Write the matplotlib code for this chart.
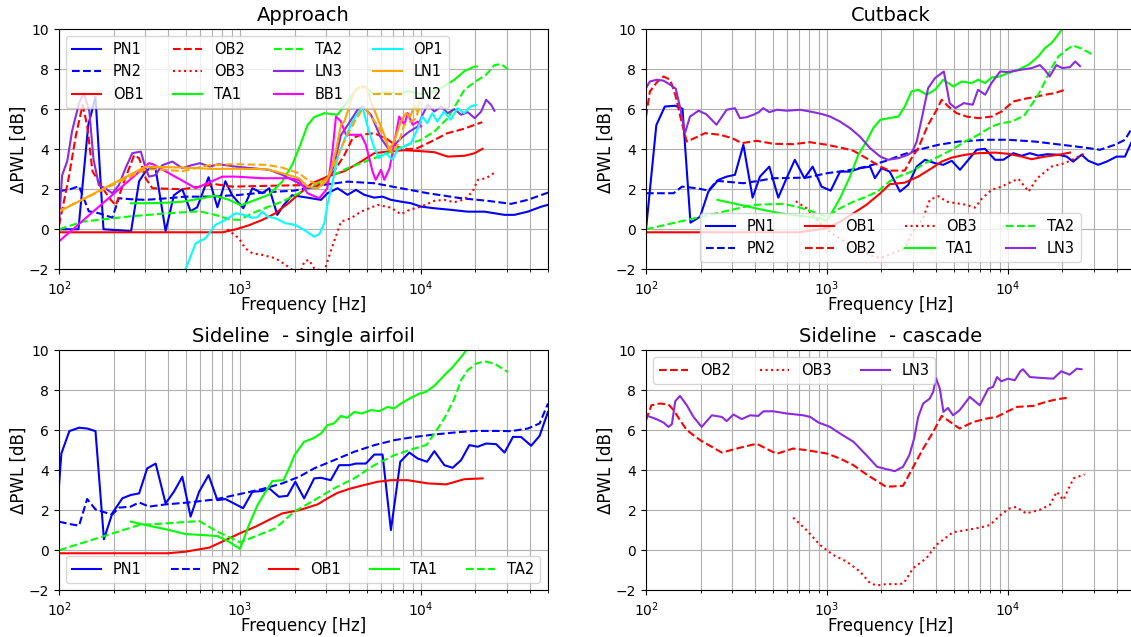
import matplotlib.pyplot as plt

# ---- Approach ----
app_pn1_f = [100, 128, 145, 159, 176, 215, 250, 277, 301, 320, 342, 388, 431, 480, 533, 580, 670, 750, 830, 905,
             1043, 1170, 1328, 1450, 1607, 1740, 1940, 2360, 2800, 3040, 3460, 3930, 4370, 4860, 5520, 6130, 6820,
             7750, 8800, 10000, 11850, 14650, 18100, 22400, 28950, 32800, 38900, 46200, 50300]
app_pn1_db = [0.0, 0.0, 5.2, 6.6, 0.0, -0.05, -0.1, 2.4, 2.9, 3.05, 3.0, -0.1, 1.7, 2.0, 0.9, 1.1, 2.6, 1.1, 2.4, 1.7,
              1.05, 2.05, 1.8, 2.05, 0.72, 1.2, 1.7, 1.58, 1.47, 1.8, 2.05, 1.72, 1.97, 1.72, 1.58, 1.63, 1.47,
              1.38, 1.3, 1.13, 1.05, 0.97, 0.88, 0.88, 0.72, 0.72, 0.88, 1.13, 1.22]
app_pn2_f = [100, 115, 129, 146, 166, 197, 214, 250, 301, 400, 500, 700, 1000, 1400, 1995, 2800, 3930, 5520, 7750,
             10900, 16650, 23400, 31500, 38900, 50300]
app_pn2_db = [1.9, 2.0, 2.15, 0.9, 0.8, 0.58, 1.55, 1.5, 1.47, 1.55, 1.63, 1.63, 1.72, 1.85, 1.93, 2.2, 2.38, 2.3,
              2.05, 1.8, 1.55, 1.42, 1.27, 1.47, 1.83]
app_ob1_f = [100, 800, 950, 1120, 1330, 1570, 1850, 2110, 2500, 3040, 3770, 4660, 5520, 6820, 8090, 10000, 11850,
             14050, 17370, 19800, 21900]
app_ob1_db = [-0.15, -0.15, 0.0, 0.2, 0.47, 0.8, 1.3, 1.75, 2.3, 2.63, 2.9, 3.38, 3.8, 3.9, 3.95, 3.9, 3.85, 3.63,
              3.67, 3.8, 4.02]
app_ob2_f = [100, 113, 124, 135, 143, 153, 174, 193, 206, 229, 260, 277, 301, 328, 480, 730, 907, 1400, 2120, 2570,
             3310, 3770, 4190, 4660, 5520, 6500, 7500, 8500, 9550, 11500, 14000, 17000, 21800]
app_ob2_db = [0.2, 2.55, 4.7, 6.2, 5.2, 2.9, 2.05, 1.47, 1.2, 2.4, 3.7, 3.55, 2.55, 2.05, 2.0, 2.25, 2.13, 2.17, 2.2,
              2.05, 2.9, 3.7, 4.55, 4.72, 4.8, 4.5, 4.1, 4.0, 4.05, 4.4, 4.8, 5.0, 5.35]
app_ob3_f = [850, 985, 1070, 1170, 1330, 1570, 1790, 1990, 2120, 2270, 2400, 2570, 2920, 3170, 3610, 4100, 4660,
             5750, 6820, 7750, 8620, 10000, 11850, 13460, 15300, 17370, 19300, 20600, 22900, 26000]
app_ob3_db = [0.0, -0.45, -0.95, -1.2, -1.28, -1.45, -1.78, -2.1, -2.3, -1.6, -1.53, -1.95, -2.1, -1.1, 0.38, 0.55,
              0.88, 1.22, 1.08, 0.75, 0.97, 1.13, 1.42, 1.47, 1.35, 1.5, 1.88, 2.47, 2.55, 2.88]
app_ta1_f = [249, 301, 400, 480, 620, 730, 870, 1010, 1220, 1440, 1710, 1940, 2150, 2360, 2570, 2920, 3460, 3930,
             4460, 4860, 5500, 6500, 7500, 8500, 10000, 11500, 12900, 15300, 17370, 19800, 20400]
app_ta1_db = [1.3, 1.3, 1.33, 1.38, 1.55, 1.68, 1.47, 1.2, 1.47, 1.72, 2.38, 3.2, 4.2, 5.2, 5.6, 5.8, 5.72, 6.4,
              7.05, 7.13, 6.75, 6.85, 6.75, 6.9, 6.75, 6.85, 7.05, 7.47, 7.9, 8.13, 8.13]
app_ta2_f = [100, 135, 250, 400, 595, 730, 870, 990, 1170, 1440, 1710, 2120, 2360, 2800, 3310, 3930, 4660, 5520,
             6820, 8440, 10000, 11850, 14050, 15960, 17370, 20150, 22900, 25450, 27700, 30200]
app_ta2_db = [0.0, 0.38, 0.65, 0.8, 0.9, 0.72, 0.5, 0.47, 0.8, 1.13, 1.38, 1.8, 2.05, 2.38, 2.72, 3.05, 3.3, 3.55,
              3.88, 4.22, 4.47, 4.88, 5.55, 6.38, 6.97, 7.4, 7.72, 8.2, 8.25, 8.0]
app_ln3_f = [100, 104, 111, 118, 129, 137, 147, 155, 166, 180, 197, 214, 233, 254, 283, 301, 314, 340, 372, 423,
             480, 540, 600, 680, 760, 946, 1170, 1450, 1710, 2030, 2360, 2700, 3040, 3310, 3610, 3930, 4460, 4760,
             5290, 6010, 6560, 7120, 7750, 8620, 9590, 10200, 10900, 11850, 12900, 14050, 15300, 16650, 18100,
             19800, 21500, 22900, 24400, 25450]
app_ln3_db = [0.3, 2.7, 3.4, 4.9, 6.3, 6.8, 5.9, 3.5, 2.2, 2.05, 1.8, 2.2, 3.05, 3.8, 3.88, 3.05, 2.63, 2.7, 3.2,
              3.38, 3.05, 3.2, 3.3, 3.13, 3.25, 3.13, 3.05, 2.97, 2.72, 2.38, 2.05, 2.1, 2.38, 3.2, 4.7, 5.2, 5.97,
              6.13, 5.72, 4.55, 4.05, 4.2, 4.55, 4.88, 5.13, 5.72, 6.22, 5.88, 6.13, 5.8, 6.0, 5.72, 5.85, 5.55,
              5.88, 6.47, 6.22, 5.92]
app_bb1_f = [100, 314, 330, 570, 800, 946, 1330, 1870, 2120, 2360, 2740, 3040, 3250, 3390, 3600, 3850, 4660, 4960,
             5400, 5620, 6010, 6270, 6700, 7580, 8090, 8440, 8990, 9590, 10000]
app_bb1_db = [-0.6, 3.3, 3.25, 2.05, 2.63, 2.63, 2.55, 2.55, 2.45, 1.8, 1.55, 2.05, 4.0, 5.63, 5.4, 4.72, 4.72, 4.22,
              2.88, 2.47, 2.97, 2.47, 3.05, 5.63, 5.22, 5.8, 5.22, 5.38, 5.13]
app_op1_f = [500, 569, 645, 731, 832, 947, 1050, 1170, 1250, 1330, 1420, 1570, 1790, 2020, 2260, 2570, 2740, 2920,
             3040, 3250, 3460, 3770, 4100, 4400, 4760, 5100, 5520, 5860, 6380, 6950, 7400, 8070, 8780, 9540, 10170,
             10830, 11550, 12300, 13400, 14600, 15900, 17300, 18800, 20100]
app_op1_db = [-2.0, -0.7, -0.45, 0.22, 0.47, 0.8, 0.72, 0.58, 0.6, 0.88, 0.63, 0.55, 0.3, 0.22, -0.03, -0.37, -0.25,
              0.3, 1.22, 2.38, 3.55, 4.47, 5.22, 5.72, 6.05, 5.05, 4.05, 3.55, 3.8, 3.47, 3.97, 4.13, 4.3, 4.97,
              5.63, 5.3, 5.8, 5.38, 5.88, 5.47, 6.05, 5.8, 6.13, 6.22]
app_ln1_f = [100, 301, 480, 700, 1000, 1400, 1710, 2120, 2360, 2680, 2980, 3170, 3400, 3610, 3770, 4270, 4660, 4960,
             5290, 5750, 6270, 6680, 7100, 7750, 8250, 8700, 9200, 9500, 9790, 10000]
app_ln1_db = [0.88, 3.13, 3.08, 3.02, 3.02, 3.0, 2.8, 2.55, 2.13, 2.05, 2.38, 2.88, 4.0, 5.22, 5.38, 6.88, 7.13, 7.13,
              6.38, 5.55, 4.72, 3.97, 4.38, 5.38, 5.8, 5.6, 6.22, 5.9, 6.38, 6.3]
app_ln2_f = [100, 301, 388, 480, 675, 907, 1400, 1710, 2120, 2360, 2680, 3040, 3310, 3610, 3930, 4300, 4660, 4960,
             5400, 6010, 6560, 6970, 7500, 8090, 8800, 9300, 9790]
app_ln2_db = [0.92, 3.0, 2.97, 2.9, 3.2, 3.25, 3.22, 3.08, 2.8, 2.47, 2.22, 2.55, 3.22, 4.05, 4.72, 5.38, 5.88, 5.97,
              5.55, 4.88, 4.22, 3.8, 4.3, 5.22, 5.38, 5.5, 6.05]

# ---- Cutback ----
cut_pn1_f = [100, 114, 127, 145, 159, 176, 199, 221, 251, 279, 310, 345, 388, 426, 480, 538, 598, 664, 750, 833,
             933, 1048, 1180, 1340, 1520, 1730, 1840, 2000, 2220, 2530, 2810, 3130, 3480, 3950, 4390, 4890, 5430,
             6040, 6710, 7460, 8480, 9420, 10700, 11900, 13200, 14700, 16500, 19000, 21100, 22900, 25500, 27800,
             31500, 35100, 39800, 44300, 47800, 52000]
cut_pn1_db = [0.0, 5.2, 6.13, 6.17, 6.02, 0.33, 0.63, 1.88, 2.47, 2.63, 2.72, 4.22, 1.58, 2.63, 3.13, 1.58, 2.55,
              3.47, 2.55, 3.13, 2.13, 1.93, 2.88, 2.88, 3.05, 3.13, 2.55, 3.05, 2.88, 1.88, 2.22, 3.13, 3.47, 3.3,
              3.22, 3.42, 2.97, 3.47, 3.97, 4.02, 3.47, 3.47, 3.8, 3.67, 3.8, 3.68, 3.75, 3.72, 3.63, 3.38, 3.72,
              3.42, 3.22, 3.38, 3.63, 3.63, 4.3, 4.8]
cut_pn2_f = [100, 142, 158, 191, 221, 246, 345, 420, 505, 770, 1000, 1280, 1650, 2090, 2600, 3190, 4130, 5320, 7460,
             10000, 14100, 19800, 26600, 32200, 39000, 44300, 47800, 52000]
cut_pn2_db = [1.8, 1.8, 2.13, 2.05, 1.93, 2.42, 2.3, 2.42, 2.55, 2.58, 2.8, 2.93, 3.13, 3.4, 3.72, 3.97, 4.22, 4.38,
              4.47, 4.47, 4.38, 4.22, 4.08, 3.97, 4.22, 4.47, 4.97, 5.3]
cut_ob1_f = [100, 700, 1000, 1180, 1400, 1650, 1970, 2220, 2690, 3190, 3790, 4300, 4890, 5790, 6860, 8480, 10000,
             11900, 13500, 16000, 19000, 22000]
cut_ob1_db = [-0.15, -0.15, 0.05, 0.38, 0.8, 1.22, 1.8, 2.25, 2.33, 2.63, 3.05, 3.38, 3.58, 3.72, 3.8, 3.83, 3.77,
              3.63, 3.5, 3.63, 3.72, 3.83]
cut_ob2_f = [100, 105, 115, 125, 136, 145, 157, 168, 185, 212, 256, 300, 338, 409, 505, 650, 804, 1000, 1230, 1400,
             1650, 1970, 2220, 2690, 2930, 3190, 3620, 4040, 4300, 4680, 5200, 5910, 6860, 8120, 9220, 10700, 12400,
             14000, 16000, 18200, 20600]
cut_ob2_db = [5.63, 6.88, 7.35, 7.63, 7.47, 6.72, 5.38, 4.38, 4.55, 4.8, 4.72, 4.55, 4.3, 4.42, 4.27, 4.25, 4.35,
              4.22, 4.05, 3.92, 3.55, 3.13, 2.93, 2.93, 3.55, 4.05, 5.22, 5.97, 6.47, 6.13, 5.8, 5.63, 5.55, 5.63,
              5.88, 6.38, 6.52, 6.6, 6.72, 6.8, 6.97]
cut_ob3_f = [673, 770, 850, 935, 1100, 1300, 1550, 1800, 1980, 2200, 2450, 2700, 2900, 3130, 3370, 3700, 4140, 4580,
             5200, 5910, 6570, 7200, 8120, 9200, 10500, 11400, 12200, 13000, 14500, 17400, 20600, 23500, 26600]
cut_ob3_db = [1.4, 1.05, 0.63, 0.22, -0.3, -0.7, -1.1, -1.35, -1.43, -1.28, -1.1, -0.95, -0.3, 0.2, 0.48, 1.48,
              1.65, 1.38, 1.3, 1.22, 1.08, 1.55, 1.97, 2.13, 2.38, 2.52, 2.2, 1.88, 2.55, 3.13, 3.3, 3.55, 3.8]
cut_ta1_f = [248, 331, 427, 550, 710, 914, 1000, 1180, 1340, 1490, 1650, 1800, 1970, 2200, 2480, 2690, 2930, 3190,
             3550, 3950, 4390, 4990, 5540, 6300, 6860, 7460, 8120, 9000, 10000, 11400, 13000, 14700, 16000, 17400,
             18600, 19800, 21000]
cut_ta1_db = [1.47, 1.22, 1.0, 0.8, 0.67, 0.55, 0.42, 1.55, 2.63, 3.72, 4.38, 5.05, 5.47, 5.55, 5.63, 6.13, 6.88,
              6.97, 6.72, 6.97, 7.47, 7.13, 7.38, 7.3, 7.47, 7.3, 7.58, 7.63, 7.8, 7.97, 8.22, 8.63, 9.05, 9.3, 9.63,
              9.97, 10.3]
cut_ta2_f = [100, 392, 573, 700, 850, 1000, 1180, 1400, 1650, 1900, 2220, 2480, 2930, 3480, 4130, 4890, 5790, 6860,
             8120, 9200, 10500, 11500, 12400, 13500, 14700, 16000, 17400, 19000, 21100, 22900, 25500, 30000]
cut_ta2_db = [0.0, 1.22, 1.27, 1.1, 0.85, 0.63, 1.05, 1.38, 1.63, 1.88, 2.4, 2.63, 2.88, 3.3, 3.63, 3.97, 4.38,
              4.72, 5.13, 5.3, 5.38, 5.55, 5.72, 6.22, 6.72, 7.38, 8.05, 8.63, 8.97, 9.18, 9.02, 8.68]
cut_ln3_f = [100, 105, 115, 125, 136, 146, 155, 164, 175, 195, 215, 245, 279, 310, 330, 360, 392, 420, 444, 480,
             530, 600, 710, 840, 940, 1040, 1180, 1340, 1520, 1730, 1970, 2170, 2480, 2800, 2950, 3130, 3340, 3620,
             3950, 4420, 4760, 5120, 5700, 6380, 6830, 7480, 8100, 9050, 10000, 11800, 13500, 15000, 16000, 17000,
             18500, 20000, 22000, 23500, 25000]
cut_ln3_db = [7.05, 7.38, 7.47, 7.42, 7.22, 7.02, 6.0, 4.8, 5.63, 5.92, 5.75, 5.22, 5.97, 6.05, 5.55, 5.6, 5.72,
              5.85, 6.05, 5.85, 5.97, 5.92, 5.97, 5.85, 5.75, 5.63, 5.38, 5.05, 4.63, 4.05, 3.63, 3.47, 3.55, 3.72,
              3.85, 4.38, 5.55, 7.05, 7.55, 7.88, 6.3, 6.05, 6.3, 6.22, 6.97, 6.72, 7.3, 7.88, 7.85, 7.97, 8.05, 8.2,
              7.95, 7.63, 8.2, 8.05, 8.1, 8.38, 8.15]

# ---- Sideline, single airfoil ----
sl_pn1_f = [100, 103, 114, 129, 143, 159, 177, 197, 224, 249, 277, 307, 342, 388, 431, 480, 533, 594, 670, 750, 830,
            920, 1040, 1170, 1330, 1450, 1640, 1830, 2020, 2260, 2570, 2800, 3170, 3530, 4010, 4370, 4960, 5520,
            6130, 6820, 7680, 8620, 9590, 10800, 11850, 13460, 14960, 16650, 18500, 20550, 22900, 26000, 28950,
            32200, 35700, 40600, 45200, 48100, 50300]
sl_pn1_db = [3.25, 4.83, 5.95, 6.12, 6.08, 5.95, 0.55, 1.85, 2.6, 2.76, 2.84, 4.09, 4.33, 2.34, 2.92, 3.67, 1.68,
             2.92, 3.75, 2.5, 2.56, 2.35, 2.1, 2.92, 2.96, 3.09, 2.67, 2.72, 3.42, 2.59, 3.59, 3.62, 3.5, 4.25, 4.25,
             4.33, 4.33, 4.78, 4.78, 1.01, 4.42, 4.88, 4.58, 4.42, 4.95, 4.25, 4.12, 4.5, 5.25, 5.17, 5.33, 5.3,
             4.88, 5.66, 5.66, 5.22, 5.71, 6.41, 6.91]
sl_pn2_f = [100, 114, 129, 143, 159, 181, 197, 215, 249, 277, 314, 388, 523, 730, 1000, 1330, 1710, 2120, 2570,
            3310, 4280, 5520, 7120, 9190, 11850, 15290, 19740, 25450, 31500, 38900, 45200, 50300]
sl_pn2_db = [1.43, 1.31, 1.23, 2.56, 2.04, 1.88, 1.79, 2.13, 2.18, 2.39, 2.18, 2.29, 2.39, 2.54, 2.81, 3.06, 3.34,
             3.67, 4.09, 4.5, 4.92, 5.25, 5.5, 5.66, 5.78, 5.88, 5.96, 5.96, 5.95, 6.08, 6.33, 7.33]
sl_ob1_f = [100, 400, 500, 675, 798, 1000, 1220, 1440, 1710, 2120, 2680, 3040, 3460, 4100, 4860, 5750, 6820, 8440,
            10900, 13750, 17370, 21900]
sl_ob1_db = [-0.15, -0.15, -0.07, 0.13, 0.43, 0.85, 1.18, 1.51, 1.84, 2.0, 2.29, 2.59, 2.87, 3.09, 3.26, 3.42, 3.5,
             3.5, 3.34, 3.29, 3.55, 3.59]
sl_ta1_f = [249, 301, 388, 500, 620, 750, 870, 1000, 1120, 1250, 1380, 1510, 1740, 1900, 2000, 2260, 2530, 2800,
            3040, 3300, 3610, 3900, 4280, 4700, 5290, 5900, 6540, 7100, 7750, 8620, 9790, 10600, 11850, 13460,
            14960, 16650, 18100]
sl_ta1_db = [1.43, 1.26, 1.05, 0.81, 0.76, 0.71, 0.43, 0.07, 1.26, 2.26, 2.9, 3.46, 3.5, 4.25, 4.75, 5.42, 5.58,
             5.83, 6.25, 6.33, 6.71, 6.61, 6.91, 6.83, 7.0, 6.95, 7.16, 7.08, 7.33, 7.57, 7.82, 7.9, 8.21, 8.74, 9.15,
             9.65, 10.07]
sl_ta2_f = [100, 277, 400, 595, 750, 1000, 1220, 1570, 1995, 2570, 3310, 4280, 5520, 7120, 9190, 10700, 11850,
            13460, 15290, 16650, 18100, 20150, 22400, 25450, 30200]
sl_ta2_db = [0.0, 1.26, 1.35, 1.46, 0.93, 0.4, 0.7, 1.1, 1.93, 2.5, 3.09, 3.59, 4.25, 4.75, 5.08, 5.25, 5.83, 6.58,
             7.57, 8.49, 8.99, 9.32, 9.44, 9.32, 8.9]

# ---- Sideline, cascade ----
cas_ob2_f = [100, 107, 119, 133, 142, 154, 168, 199, 262, 330, 409, 460, 527, 650, 770, 1000, 1180, 1400, 1650,
             2120, 2630, 2930, 3400, 3860, 4300, 4790, 5400, 6450, 7630, 8660, 9820, 11200, 13800, 16200, 18600,
             21100]
cas_ob2_db = [6.5, 7.24, 7.33, 7.28, 7.0, 6.5, 6.0, 5.5, 4.88, 5.12, 5.32, 5.08, 4.82, 5.08, 5.0, 4.83, 4.58, 4.25,
              3.79, 3.17, 3.22, 4.0, 5.08, 5.91, 6.71, 6.41, 6.08, 6.41, 6.58, 6.66, 6.91, 7.16, 7.21, 7.41, 7.54,
              7.61]
cas_ob3_f = [650, 770, 913, 1080, 1280, 1520, 1730, 1880, 2130, 2530, 2650, 2990, 3540, 4020, 4970, 5880, 6980,
             7950, 9000, 10200, 11100, 12600, 14900, 17000, 18600, 20200, 23000, 26500]
cas_ob3_db = [1.63, 1.01, 0.27, -0.23, -0.56, -1.06, -1.64, -1.76, -1.69, -1.69, -1.65, -0.9, -0.4, 0.27, 0.9,
              1.01, 1.13, 1.26, 1.73, 2.09, 2.16, 1.84, 2.01, 2.26, 2.92, 2.51, 3.59, 3.79]
cas_ln3_f = [100, 114, 125, 133, 139, 145, 154, 168, 183, 203, 231, 262, 279, 304, 338, 376, 417, 445, 505, 600,
             740, 808, 897, 1040, 1180, 1400, 1650, 1890, 2130, 2370, 2630, 2850, 3030, 3190, 3400, 3690, 3860,
             4000, 4200, 4400, 4660, 4970, 5400, 6150, 6980, 7780, 8270, 8700, 9190, 10000, 10900, 11700, 12100,
             13200, 15600, 17800, 19700, 21900, 24000, 25500]
cas_ln3_db = [6.74, 6.55, 6.38, 6.16, 6.3, 7.44, 7.71, 7.24, 6.66, 6.16, 6.74, 6.66, 6.45, 6.78, 6.55, 6.74, 6.71,
              6.94, 6.94, 6.83, 6.74, 6.66, 6.38, 6.16, 5.83, 5.42, 4.75, 4.17, 4.05, 3.95, 4.17, 4.75, 5.58, 6.66,
              7.33, 7.57, 7.91, 8.6, 8.07, 6.91, 7.11, 6.74, 6.99, 7.66, 7.24, 8.07, 8.16, 8.65, 8.44, 8.57, 8.49,
              8.94, 9.04, 8.65, 8.6, 8.57, 8.94, 8.77, 9.07, 9.04]

# line colour / style per configuration
STYLE = {
    'PN1': ('#0000ff', '-'), 'PN2': ('#0000ff', '--'),
    'OB1': ('#ff0000', '-'), 'OB2': ('#ff0000', '--'), 'OB3': ('#ff0000', ':'),
    'TA1': ('#00ff00', '-'), 'TA2': ('#00ff00', '--'),
    'LN3': ('#8a2be2', '-'), 'BB1': ('#ff00ff', '-'), 'OP1': ('#00ffff', '-'),
    'LN1': ('#ffa500', '-'), 'LN2': ('#ffa500', '--'),
}


def setup(ax, title):
    ax.set_xscale('log')
    ax.set_xlim(100, 5e4)
    ax.set_ylim(-2, 10)
    ax.set_yticks([-2, 0, 2, 4, 6, 8, 10])
    ax.grid(True, which='major', color='#b0b0b0', lw=0.8)
    ax.grid(True, which='minor', axis='x', color='#b0b0b0', lw=0.8)
    ax.set_axisbelow(True)
    ax.tick_params(labelsize=10)
    ax.set_title(title, fontsize=14)
    ax.set_xlabel('Frequency [Hz]', fontsize=12, labelpad=-1)
    ax.set_ylabel('ΔPWL [dB]', fontsize=12, labelpad=1)


def draw(ax, series):
    for name, f, db in series:
        c, ls = STYLE[name]
        ax.plot(f, db, color=c, ls=ls, lw=1.5, label=name)


fig = plt.figure(figsize=(11.31, 6.37), dpi=100)
ax1 = fig.add_axes([0.0522, 0.5772, 0.4319, 0.3772])
ax2 = fig.add_axes([0.5712, 0.5772, 0.4319, 0.3772])
ax3 = fig.add_axes([0.0522, 0.0733, 0.4319, 0.3772])
ax4 = fig.add_axes([0.5712, 0.0733, 0.4319, 0.3772])

draw(ax1, [('PN1', app_pn1_f, app_pn1_db), ('PN2', app_pn2_f, app_pn2_db),
           ('OB1', app_ob1_f, app_ob1_db), ('OB2', app_ob2_f, app_ob2_db),
           ('OB3', app_ob3_f, app_ob3_db), ('TA1', app_ta1_f, app_ta1_db),
           ('TA2', app_ta2_f, app_ta2_db), ('LN3', app_ln3_f, app_ln3_db),
           ('BB1', app_bb1_f, app_bb1_db), ('OP1', app_op1_f, app_op1_db),
           ('LN1', app_ln1_f, app_ln1_db), ('LN2', app_ln2_f, app_ln2_db)])
setup(ax1, 'Approach')
ax1.legend(ncol=4, loc='upper left', fontsize=10.5)

draw(ax2, [('PN1', cut_pn1_f, cut_pn1_db), ('PN2', cut_pn2_f, cut_pn2_db),
           ('OB1', cut_ob1_f, cut_ob1_db), ('OB2', cut_ob2_f, cut_ob2_db),
           ('OB3', cut_ob3_f, cut_ob3_db), ('TA1', cut_ta1_f, cut_ta1_db),
           ('TA2', cut_ta2_f, cut_ta2_db), ('LN3', cut_ln3_f, cut_ln3_db)])
setup(ax2, 'Cutback')
ax2.legend(ncol=4, loc='lower center', fontsize=10.5)

draw(ax3, [('PN1', sl_pn1_f, sl_pn1_db), ('PN2', sl_pn2_f, sl_pn2_db),
           ('OB1', sl_ob1_f, sl_ob1_db), ('TA1', sl_ta1_f, sl_ta1_db),
           ('TA2', sl_ta2_f, sl_ta2_db)])
setup(ax3, 'Sideline  - single airfoil')
ax3.legend(ncol=5, loc='lower center', mode='expand', fontsize=10.5)

draw(ax4, [('OB2', cas_ob2_f, cas_ob2_db), ('OB3', cas_ob3_f, cas_ob3_db),
           ('LN3', cas_ln3_f, cas_ln3_db)])
setup(ax4, 'Sideline  - cascade')
ax4.legend(ncol=3, loc='upper left', fontsize=10.5)

fig.savefig('out.png', dpi=100)
